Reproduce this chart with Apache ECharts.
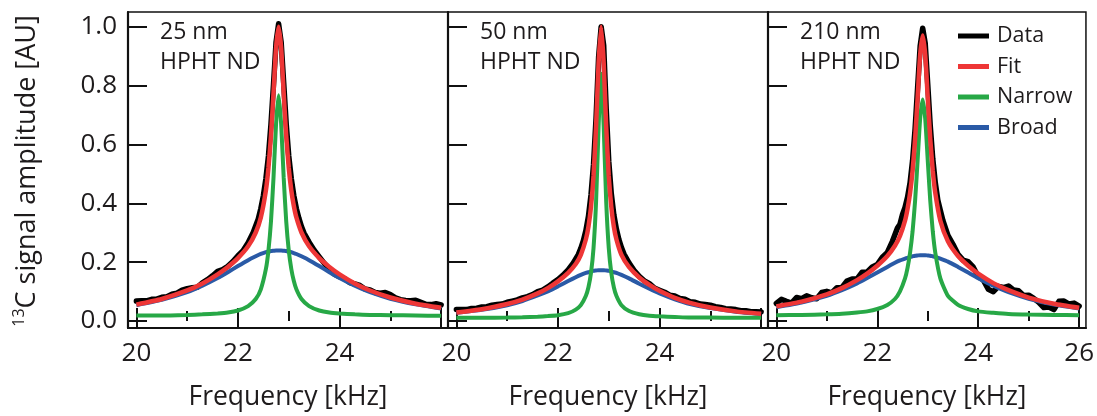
<!DOCTYPE html>
<html>
<head>
<meta charset="utf-8">
<script src="https://cdn.jsdelivr.net/npm/echarts@6/dist/echarts.min.js"></script>
<style>
  html, body { margin: 0; padding: 0; background: #ffffff; }
  #chart { width: 1097px; height: 416px; }
</style>
</head>
<body>
<div id="chart"></div>
<script>
// Frequency samples (kHz) for the fitted curves
const fitFreq = [20.0, 20.5, 21.0, 21.3, 21.6, 21.8, 22.0, 22.2, 22.35, 22.45, 22.55, 22.6, 22.65, 22.7, 22.75,
  22.8, 22.85, 22.9, 22.95, 23.0, 23.05, 23.1, 23.15, 23.25, 23.4, 23.6, 23.8, 24.0, 24.3, 24.6, 25.0, 25.5, 26.0];

// Frequency samples (kHz) of the measured spectra
const dataFreq = [20.0, 20.1, 20.2, 20.3, 20.4, 20.5, 20.6, 20.7, 20.8, 20.9,
  21.0, 21.1, 21.2, 21.3, 21.4, 21.5, 21.6, 21.7, 21.8, 21.9,
  22.0, 22.1, 22.2, 22.3, 22.4,
  22.45, 22.5, 22.55, 22.6, 22.65, 22.7, 22.75, 22.8, 22.85, 22.9, 22.95, 23.0, 23.05, 23.1, 23.15, 23.2, 23.25,
  23.3, 23.4, 23.5, 23.6, 23.7, 23.8, 23.9, 24.0, 24.1, 24.2,
  24.3, 24.4, 24.5, 24.6, 24.7, 24.8, 24.9, 25.0, 25.1, 25.2,
  25.3, 25.4, 25.5, 25.6, 25.7, 25.8, 25.9, 26.0];

// 25 nm HPHT ND
const data25 = [0.068, 0.069, 0.069, 0.074, 0.075, 0.081, 0.083, 0.091, 0.095, 0.105,
  0.110, 0.113, 0.115, 0.130, 0.141, 0.154, 0.169, 0.175, 0.186, 0.202,
  0.222, 0.239, 0.266, 0.301, 0.347,
  0.382, 0.426, 0.484, 0.561, 0.670, 0.805, 0.948, 1.010, 0.948, 0.810, 0.670, 0.561, 0.484, 0.426, 0.382, 0.349, 0.321,
  0.299, 0.268, 0.241, 0.218, 0.196, 0.176, 0.159, 0.151, 0.144, 0.131,
  0.126, 0.121, 0.109, 0.106, 0.097, 0.095, 0.097, 0.090, 0.079, 0.073,
  0.070, 0.069, 0.071, 0.064, 0.057, 0.056, 0.059, 0.055];
const fit25 = [0.056, 0.075, 0.104, 0.128, 0.159, 0.184, 0.214, 0.254, 0.301, 0.352, 0.444, 0.521, 0.630, 0.775, 0.928,
  1.000, 0.928, 0.775, 0.630, 0.521, 0.444, 0.391, 0.352, 0.301, 0.254, 0.214, 0.184, 0.159, 0.128, 0.104, 0.080, 0.059, 0.045];
const narrow25 = [0.019, 0.019, 0.021, 0.023, 0.026, 0.029, 0.036, 0.051, 0.075, 0.108, 0.177, 0.240, 0.339, 0.488, 0.670,
  0.767, 0.670, 0.488, 0.339, 0.240, 0.177, 0.136, 0.108, 0.075, 0.051, 0.036, 0.029, 0.026, 0.023, 0.021, 0.020, 0.019, 0.018];
const broad25 = [0.054, 0.072, 0.098, 0.120, 0.146, 0.166, 0.187, 0.207, 0.220, 0.228, 0.234, 0.236, 0.238, 0.239, 0.240,
  0.240, 0.240, 0.239, 0.238, 0.236, 0.234, 0.231, 0.228, 0.220, 0.207, 0.187, 0.166, 0.146, 0.120, 0.098, 0.076, 0.057, 0.043];

// 50 nm HPHT ND
const data50 = [0.039, 0.039, 0.039, 0.043, 0.044, 0.048, 0.049, 0.054, 0.056, 0.058,
  0.064, 0.068, 0.072, 0.079, 0.083, 0.090, 0.100, 0.105, 0.116, 0.129,
  0.141, 0.156, 0.174, 0.197, 0.226,
  0.247, 0.273, 0.308, 0.356, 0.428, 0.533, 0.690, 0.897, 1.000, 0.937, 0.720, 0.543, 0.433, 0.361, 0.313, 0.277, 0.250,
  0.228, 0.197, 0.172, 0.152, 0.137, 0.127, 0.112, 0.105, 0.098, 0.088,
  0.085, 0.077, 0.074, 0.066, 0.064, 0.058, 0.056, 0.054, 0.049, 0.046,
  0.042, 0.041, 0.039, 0.035, 0.035, 0.032, 0.032, 0.031];
const fit50 = [0.029, 0.040, 0.058, 0.073, 0.094, 0.112, 0.135, 0.164, 0.194, 0.225, 0.278, 0.321, 0.388, 0.493, 0.660, 0.877,
  1.000, 0.877, 0.660, 0.493, 0.388, 0.321, 0.278, 0.225, 0.183, 0.148, 0.123, 0.103, 0.079, 0.062, 0.046, 0.033, 0.025];
const narrow50 = [0.011, 0.011, 0.012, 0.013, 0.015, 0.017, 0.020, 0.027, 0.039, 0.054, 0.086, 0.115, 0.163, 0.248, 0.404, 0.661,
  0.840, 0.661, 0.404, 0.248, 0.163, 0.115, 0.086, 0.054, 0.034, 0.023, 0.018, 0.016, 0.014, 0.012, 0.012, 0.011, 0.011];
const broad50 = [0.028, 0.038, 0.054, 0.068, 0.087, 0.101, 0.118, 0.136, 0.149, 0.157, 0.164, 0.166, 0.169, 0.171, 0.172, 0.173,
  0.173, 0.173, 0.172, 0.171, 0.169, 0.166, 0.164, 0.157, 0.145, 0.127, 0.110, 0.094, 0.074, 0.058, 0.044, 0.032, 0.024];

// 210 nm HPHT ND
const data210 = [0.060, 0.074, 0.067, 0.061, 0.080, 0.076, 0.086, 0.079, 0.076, 0.097,
  0.101, 0.096, 0.113, 0.114, 0.136, 0.143, 0.143, 0.166, 0.167, 0.184,
  0.192, 0.217, 0.233, 0.271, 0.316,
  0.329, 0.362, 0.386, 0.421, 0.470, 0.546, 0.654, 0.795, 0.934, 0.995, 0.944, 0.805, 0.664, 0.551, 0.470, 0.411, 0.376,
  0.342, 0.291, 0.261, 0.227, 0.207, 0.202, 0.184, 0.151, 0.140, 0.108,
  0.100, 0.118, 0.114, 0.119, 0.106, 0.103, 0.087, 0.088, 0.077, 0.064,
  0.046, 0.048, 0.039, 0.067, 0.068, 0.058, 0.061, 0.051];
const fit210 = [0.050, 0.066, 0.091, 0.112, 0.139, 0.161, 0.188, 0.221, 0.256, 0.289, 0.341, 0.381, 0.435, 0.511, 0.619, 0.760, 0.904,
  0.970, 0.904, 0.760, 0.619, 0.511, 0.435, 0.341, 0.271, 0.221, 0.188, 0.161, 0.129, 0.105, 0.080, 0.059, 0.045];
const narrow210 = [0.020, 0.021, 0.023, 0.025, 0.029, 0.033, 0.041, 0.055, 0.075, 0.101, 0.145, 0.181, 0.232, 0.305, 0.409, 0.547, 0.688,
  0.753, 0.688, 0.547, 0.409, 0.305, 0.232, 0.145, 0.086, 0.055, 0.041, 0.033, 0.028, 0.024, 0.022, 0.021, 0.020];
const broad210 = [0.047, 0.063, 0.086, 0.105, 0.128, 0.146, 0.165, 0.184, 0.198, 0.206, 0.212, 0.215, 0.218, 0.220, 0.222, 0.223, 0.224,
  0.224, 0.224, 0.223, 0.222, 0.220, 0.218, 0.212, 0.202, 0.184, 0.165, 0.146, 0.120, 0.098, 0.076, 0.056, 0.043];

const panelLabels = ['25 nm', '50 nm', '210 nm'];
const sampleLabel = 'HPHT ND';
const seriesNames = ['Data', 'Fit', 'Narrow', 'Broad'];
const yTicks = [0, 0.2, 0.4, 0.6, 0.8, 1.0];
const xMajorTicks = [20, 22, 24, 26];
const xMinorTicks = [21, 23, 25];
const xLabelTicks = [[20, 22, 24], [20, 22, 24], [20, 22, 24, 26]];
const xTitle = 'Frequency [kHz]';

const panelData = [
  { data: data25, fit: fit25, narrow: narrow25, broad: broad25 },
  { data: data50, fit: fit50, narrow: narrow50, broad: broad50 },
  { data: data210, fit: fit210, narrow: narrow210, broad: broad210 }
];

const colors = { Data: '#000000', Fit: '#ee3636', Narrow: '#27a846', Broad: '#2a5aa6' };
const FONT = '"Open Sans", "DejaVu Sans", sans-serif';
const TEXT = '#1e1b1c';

const gridLefts = [128, 448, 768];
const gridWidth = 320;
const gridTop = 12;
const gridHeight = 320;
const X_MIN = 19.835, X_MAX = 26.135;
const Y_MIN = -0.0235, Y_MAX = 1.05;

const pairs = (xs, ys) => xs.map((x, k) => [x, ys[k]]);

const grids = [], xAxes = [], yAxes = [], series = [], graphics = [];

gridLefts.forEach((left, i) => {
  grids.push({ left: left, top: gridTop, width: gridWidth, height: gridHeight,
    show: true, borderColor: '#111', borderWidth: 1.5, backgroundColor: 'transparent' });

  // major ticks, labels and title
  xAxes.push({
    type: 'value', gridIndex: i, min: X_MIN, max: X_MAX, position: 'bottom',
    axisLine: { show: true, onZero: false, lineStyle: { color: '#111', width: 2.2 } },
    axisTick: { show: true, inside: true, length: 20, customValues: xMajorTicks, lineStyle: { color: '#111', width: 2 } },
    axisLabel: { show: true, customValues: xLabelTicks[i], margin: 13, fontSize: 26, fontFamily: FONT, color: TEXT,
      formatter: v => String(Math.round(v)) },
    splitLine: { show: false },
    name: xTitle, nameLocation: 'middle', nameGap: 56,
    nameTextStyle: { fontSize: 26.5, fontFamily: FONT, color: TEXT }
  });
  // minor ticks
  xAxes.push({
    type: 'value', gridIndex: i, min: X_MIN, max: X_MAX, position: 'bottom',
    axisLine: { show: false },
    axisTick: { show: true, inside: true, length: 10, customValues: xMinorTicks, lineStyle: { color: '#111', width: 2 } },
    axisLabel: { show: false },
    splitLine: { show: false }
  });
  yAxes.push({
    type: 'value', gridIndex: i, min: Y_MIN, max: Y_MAX, position: 'left',
    axisLine: { show: true, onZero: false, lineStyle: { color: '#111', width: 2.2 } },
    axisTick: { show: true, inside: true, length: 19, customValues: yTicks, lineStyle: { color: '#111', width: 2 } },
    axisLabel: { show: i === 0, customValues: yTicks, margin: 11, fontSize: 26, fontFamily: FONT, color: TEXT,
      formatter: v => v.toFixed(1) },
    splitLine: { show: false }
  });

  const p = panelData[i];
  const common = { xAxisIndex: 2 * i, yAxisIndex: i, type: 'line', showSymbol: false, symbol: 'none', animation: false, silent: true };
  series.push(Object.assign({}, common, { name: 'Data', data: pairs(dataFreq, p.data), z: 2,
    itemStyle: { color: colors.Data }, lineStyle: { color: colors.Data, width: 5.5, cap: 'round', join: 'round' } }));
  series.push(Object.assign({}, common, { name: 'Broad', data: pairs(fitFreq, p.broad), z: 3, smooth: 0.2,
    itemStyle: { color: colors.Broad }, lineStyle: { color: colors.Broad, width: 4 } }));
  series.push(Object.assign({}, common, { name: 'Narrow', data: pairs(fitFreq, p.narrow), z: 4, smooth: 0.2,
    itemStyle: { color: colors.Narrow }, lineStyle: { color: colors.Narrow, width: 4 } }));
  series.push(Object.assign({}, common, { name: 'Fit', data: pairs(fitFreq, p.fit), z: 5, smooth: 0.2,
    itemStyle: { color: colors.Fit }, lineStyle: { color: colors.Fit, width: 4.5 } }));

  graphics.push({
    type: 'text', left: left + 32, top: 17, z: 10,
    style: { text: panelLabels[i] + '\n' + sampleLabel, fontSize: 23, fontFamily: FONT, fill: TEXT, lineHeight: 30 }
  });
});

// rotated y-axis title with superscript mass number
graphics.push({
  type: 'text', x: 27, y: 171, rotation: Math.PI / 2, z: 10,
  style: {
    text: '{sup|13}{main|C signal amplitude [AU]}',
    align: 'center', verticalAlign: 'middle',
    rich: {
      sup: { fontSize: 16, fontFamily: FONT, fill: TEXT, verticalAlign: 'top', lineHeight: 32, padding: [0, 0, 9, 0] },
      main: { fontSize: 27, fontFamily: FONT, fill: TEXT, lineHeight: 32 }
    }
  }
});

const chart = echarts.init(document.getElementById('chart'), null, { renderer: 'canvas' });
chart.setOption({
  animation: false,
  backgroundColor: '#ffffff',
  grid: grids,
  xAxis: xAxes,
  yAxis: yAxes,
  legend: {
    orient: 'vertical', left: 953, top: 20,
    data: seriesNames, icon: 'rect', itemWidth: 31, itemHeight: 5, itemGap: 8.5,
    selectedMode: false,
    textStyle: { fontSize: 21.5, fontFamily: FONT, color: TEXT, padding: [0, 0, 0, 3] }
  },
  graphic: graphics,
  series: series
});
</script>
</body>
</html>
